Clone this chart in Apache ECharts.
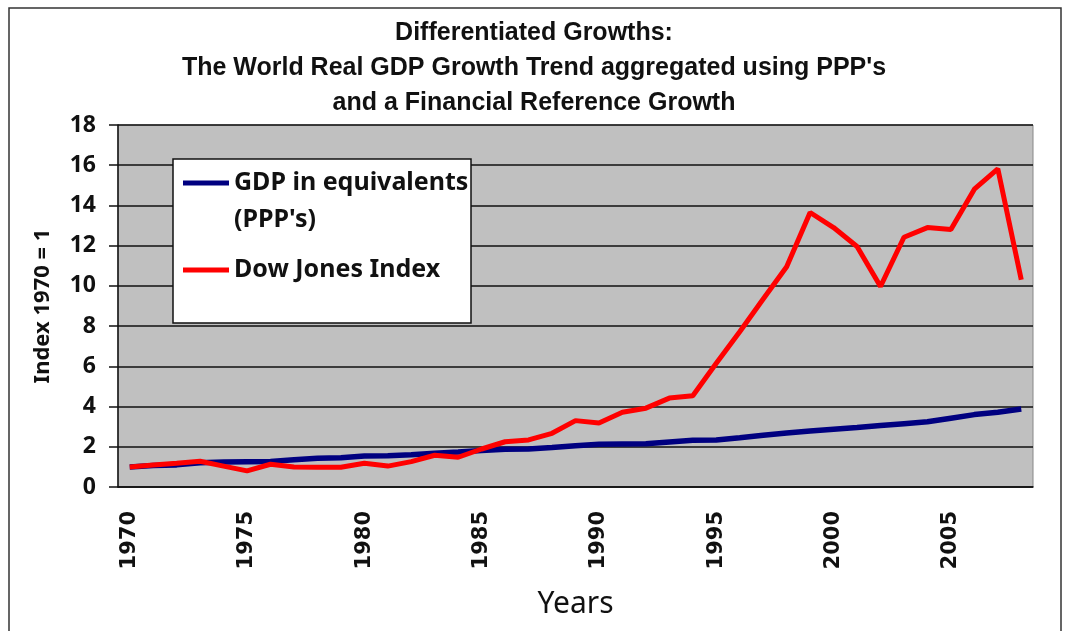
<!DOCTYPE html>
<html>
<head>
<meta charset="utf-8">
<script src="https://cdn.jsdelivr.net/npm/echarts@6/dist/echarts.min.js"></script>
<style>
  html, body { margin: 0; padding: 0; background: #fff; }
  #main { width: 1068px; height: 631px; }
</style>
</head>
<body>
<div id="main"></div>
<script type="text/javascript">
    // years 1970..2008
    var years = [];
    for (var y = 1970; y <= 2008; y++) { years.push(String(y)); }

    var gdpName = "GDP in equivalents (PPP's)";
    var dowName = 'Dow Jones Index';

    var gdpValues = [1.00, 1.07, 1.10, 1.20, 1.24, 1.26, 1.27, 1.35, 1.43, 1.46,
        1.54, 1.55, 1.60, 1.68, 1.74, 1.82, 1.88, 1.89, 1.96, 2.05,
        2.12, 2.14, 2.15, 2.24, 2.32, 2.34, 2.45, 2.57, 2.68, 2.78,
        2.87, 2.96, 3.06, 3.15, 3.24, 3.42, 3.60, 3.72, 3.88];

    var dowValues = [1.00, 1.09, 1.18, 1.28, 1.04, 0.80, 1.13, 0.99, 0.98, 0.98,
        1.18, 1.04, 1.26, 1.58, 1.48, 1.89, 2.25, 2.34, 2.67, 3.30,
        3.18, 3.72, 3.92, 4.42, 4.54, 6.15, 7.72, 9.35, 10.95, 13.65,
        12.90, 11.96, 9.97, 12.42, 12.90, 12.80, 14.81, 15.82, 10.30];

    var yTicks = { min: 0, max: 18, step: 2 };

    var chart = echarts.init(document.getElementById('main'));
    var option = {
        animation: false,
        backgroundColor: '#fff',
        title: {
            text: "Differentiated Growths:\nThe World Real GDP Growth Trend aggregated using PPP's\nand a Financial Reference Growth",
            left: 'center',
            top: 11,
            textStyle: {
                fontFamily: 'Liberation Sans',
                fontWeight: 'bold',
                fontSize: 25,
                lineHeight: 35,
                color: '#111'
            }
        },
        graphic: [
            {
                type: 'rect', z: -1,
                shape: { x: 9, y: 8, width: 1052, height: 640 },
                style: { fill: 'none', stroke: '#333', lineWidth: 1.5 }
            },
            {
                type: 'rect', z: 10,
                shape: { x: 173, y: 159, width: 298, height: 164 },
                style: { fill: '#fff', stroke: '#111', lineWidth: 1.5 }
            }
        ],
        legend: {
            orient: 'vertical',
            left: 183,
            top: 127.5,
            padding: 0,
            itemGap: 13,
            itemWidth: 46,
            itemHeight: 5,
            icon: 'rect',
            z: 20,
            selectedMode: false,
            formatter: function (name) {
                // blank first line keeps the icon level with the first text line
                return name === gdpName ? " \nGDP in equivalents\n(PPP's)" : name;
            },
            textStyle: {
                fontFamily: 'Noto Sans',
                fontWeight: 'bold',
                fontSize: 25,
                lineHeight: 37,
                color: '#111'
            },
            data: [gdpName, dowName]
        },
        grid: {
            left: 118,
            right: 35,
            top: 125,
            bottom: 144,
            outerBoundsMode: 'none',
            show: true,
            backgroundColor: '#c0c0c0',
            borderColor: '#888',
            borderWidth: 1
        },
        xAxis: {
            type: 'category',
            data: years,
            boundaryGap: true,
            name: 'Years',
            nameLocation: 'middle',
            nameGap: 102,
            nameTextStyle: { fontFamily: 'Noto Sans', fontSize: 30, color: '#111' },
            axisLine: { lineStyle: { color: '#111', width: 1.5 } },
            axisTick: { interval: 0, length: 8, lineStyle: { color: '#111', width: 1.5 } },
            axisLabel: {
                interval: 4,
                rotate: 90,
                margin: 24,
                fontFamily: 'DejaVu Sans',
                fontWeight: 'bold',
                fontSize: 21,
                color: '#111'
            },
            splitLine: { show: false }
        },
        yAxis: {
            type: 'value',
            min: yTicks.min,
            max: yTicks.max,
            interval: yTicks.step,
            name: 'Index 1970 = 1',
            nameLocation: 'middle',
            nameGap: 64,
            nameTextStyle: { fontFamily: 'Noto Sans', fontWeight: 'bold', fontSize: 22, color: '#111' },
            axisLine: { show: true, lineStyle: { color: '#111', width: 1.5 } },
            axisTick: { show: true, length: 9, lineStyle: { color: '#111', width: 1.5 } },
            axisLabel: {
                margin: 22,
                fontFamily: 'Noto Sans',
                fontWeight: 'bold',
                fontSize: 23,
                color: '#111'
            },
            splitLine: { lineStyle: { color: '#111', width: 1.5 } }
        },
        series: [
            {
                name: gdpName,
                type: 'line',
                data: gdpValues,
                symbol: 'none',
                z: 3,
                lineStyle: { color: '#000080', width: 5.5 },
                itemStyle: { color: '#000080' }
            },
            {
                name: dowName,
                type: 'line',
                data: dowValues,
                symbol: 'none',
                z: 4,
                lineStyle: { color: '#ff0000', width: 5 },
                itemStyle: { color: '#ff0000' }
            }
        ]
    };
    chart.setOption(option);
</script>
</body>
</html>
